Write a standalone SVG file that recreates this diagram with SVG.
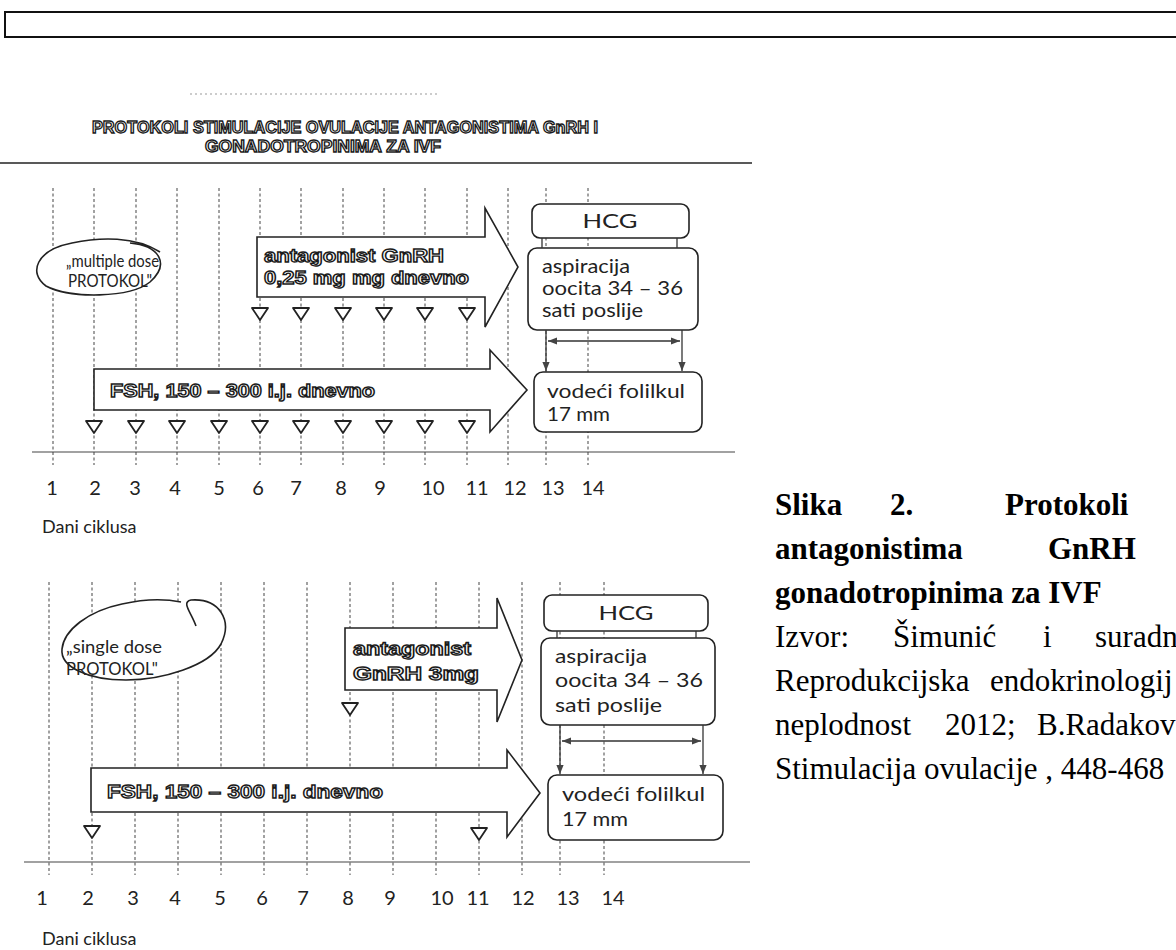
<svg xmlns="http://www.w3.org/2000/svg" width="1176" height="950" viewBox="0 0 1176 950">
<defs>
<style>
.dash{stroke:#555;stroke-width:1.1;stroke-dasharray:3 2.5;fill:none}
.box{fill:#fff;stroke:#222;stroke-width:1.6}
.tri{fill:#fff;stroke:#222;stroke-width:1.8;stroke-linejoin:round}
.ax{stroke:#444;stroke-width:1.2}
.t{font-family:Lato,"Open Sans",sans-serif;fill:#222}
.o{font-family:"Liberation Sans",Arial,sans-serif;font-weight:bold;fill:#fff;stroke:#1a1a1a;stroke-width:1.3}
.c{font-family:"Liberation Serif","Times New Roman",serif;font-size:31px;fill:#000}
.cb{font-weight:bold}
.con{stroke:#333;stroke-width:1.3;fill:none}
.num{font-size:20px;text-anchor:middle}
</style>
<marker id="ah" viewBox="0 0 10 10" refX="10" refY="5" markerWidth="7" markerHeight="7" orient="auto-start-reverse"><path d="M0,1 L10,5 L0,9 z" fill="#444"/></marker>
</defs>
<rect width="1176" height="950" fill="#fff"/>
<rect x="5" y="12" width="1190" height="25" fill="none" stroke="#111" stroke-width="2"/>

<g id="title">
<line x1="190" y1="94" x2="440" y2="94" stroke="#999" stroke-width="1" stroke-dasharray="2 3"/>
<text class="o" x="92" y="133" font-size="16" textLength="506" lengthAdjust="spacingAndGlyphs">PROTOKOLI STIMULACIJE OVULACIJE ANTAGONISTIMA GnRH I</text>
<text class="o" x="205" y="152" font-size="16" textLength="236" lengthAdjust="spacingAndGlyphs">GONADOTROPINIMA ZA IVF</text>
<line x1="0" y1="163" x2="752" y2="163" stroke="#222" stroke-width="1.5"/>
</g>

<g id="chart1-grid">
<line class="dash" x1="53" y1="188" x2="53" y2="465"/>
<line class="dash" x1="94" y1="188" x2="94" y2="465"/>
<line class="dash" x1="136" y1="188" x2="136" y2="465"/>
<line class="dash" x1="177" y1="188" x2="177" y2="465"/>
<line class="dash" x1="219" y1="188" x2="219" y2="465"/>
<line class="dash" x1="260" y1="188" x2="260" y2="465"/>
<line class="dash" x1="301" y1="188" x2="301" y2="465"/>
<line class="dash" x1="343" y1="188" x2="343" y2="465"/>
<line class="dash" x1="384" y1="188" x2="384" y2="465"/>
<line class="dash" x1="425" y1="188" x2="425" y2="465"/>
<line class="dash" x1="467" y1="188" x2="467" y2="465"/>
<line class="dash" x1="508" y1="188" x2="508" y2="465"/>
<line class="dash" x1="546" y1="188" x2="546" y2="465"/>
<line class="dash" x1="588" y1="188" x2="588" y2="465"/>
<line class="ax" x1="32" y1="452" x2="735" y2="452"/>
<g class="t num">
<text x="52" y="495">1</text><text x="95" y="495">2</text><text x="135" y="495">3</text><text x="175" y="495">4</text><text x="219" y="495">5</text><text x="258" y="495">6</text><text x="296" y="495">7</text><text x="341" y="495">8</text><text x="380" y="495">9</text><text x="433" y="495">10</text><text x="477" y="495">11</text><text x="515" y="495">12</text><text x="553" y="495">13</text><text x="593" y="495">14</text>
</g>
<text class="t" x="42" y="533" font-size="18">Dani ciklusa</text>
</g>

<g id="multiple-dose">
<path d="M130,243 C160,246 170,264 150,282 C130,298 70,299 46,286 C28,273 36,250 72,243 C100,237 135,236 160,252" class="box" stroke-width="1.4"/>
<text class="t" x="66" y="267" font-size="18" textLength="93" lengthAdjust="spacingAndGlyphs">„multiple dose</text>
<text class="t" x="68" y="287" font-size="18" textLength="84" lengthAdjust="spacingAndGlyphs">PROTOKOL"</text>
</g>

<g id="antagonist1">
<path class="box" d="M257,237 H485 V208 L518,267 L485,327 V297 H257 Z"/>
<text class="o" x="264" y="262" font-size="18" textLength="180" lengthAdjust="spacingAndGlyphs">antagonist GnRH</text>
<text class="o" x="264" y="284" font-size="18" textLength="205" lengthAdjust="spacingAndGlyphs">0,25 mg mg dnevno</text>
</g>

<g id="antagonist1-doses">
<polygon class="tri" points="252,308 268,308 260,320"/>
<polygon class="tri" points="293,308 309,308 301,320"/>
<polygon class="tri" points="335,308 351,308 343,320"/>
<polygon class="tri" points="376,308 392,308 384,320"/>
<polygon class="tri" points="417,308 433,308 425,320"/>
<polygon class="tri" points="459,308 475,308 467,320"/>
</g>

<g id="fsh1">
<path class="box" d="M94,369 H490 V350 L527,390 L490,432 V410 H94 Z"/>
<text class="o" x="110" y="397" font-size="18" textLength="265" lengthAdjust="spacingAndGlyphs">FSH, 150 – 300 i.j. dnevno</text>
</g>

<g id="fsh1-doses">
<polygon class="tri" points="86,421 102,421 94,433"/>
<polygon class="tri" points="128,421 144,421 136,433"/>
<polygon class="tri" points="169,421 185,421 177,433"/>
<polygon class="tri" points="211,421 227,421 219,433"/>
<polygon class="tri" points="252,421 268,421 260,433"/>
<polygon class="tri" points="293,421 309,421 301,433"/>
<polygon class="tri" points="335,421 351,421 343,433"/>
<polygon class="tri" points="376,421 392,421 384,433"/>
<polygon class="tri" points="417,421 433,421 425,433"/>
<polygon class="tri" points="459,421 475,421 467,433"/>
</g>

<g id="hcg1">
<rect class="box" x="532" y="204" width="157" height="34" rx="8"/>
<text class="t" x="610" y="228" font-size="19" text-anchor="middle" textLength="55" lengthAdjust="spacingAndGlyphs">HCG</text>
</g>
<g id="aspiracija1">
<rect class="box" x="528" y="248" width="170" height="82" rx="9"/>
<text class="t" x="542" y="273" font-size="19" textLength="88" lengthAdjust="spacingAndGlyphs">aspiracija</text>
<text class="t" x="542" y="295" font-size="19" textLength="141" lengthAdjust="spacingAndGlyphs">oocita 34 – 36</text>
<text class="t" x="542" y="317" font-size="19" textLength="101" lengthAdjust="spacingAndGlyphs">sati poslije</text>
</g>
<g id="folikul1">
<rect class="box" x="534" y="372" width="168" height="60" rx="9"/>
<text class="t" x="547" y="398" font-size="19" textLength="138" lengthAdjust="spacingAndGlyphs">vodeći folilkul</text>
<text class="t" x="547" y="421" font-size="19" textLength="63" lengthAdjust="spacingAndGlyphs">17 mm</text>
</g>

<g id="chart2-grid">
<line class="dash" x1="49" y1="582" x2="49" y2="875"/>
<line class="dash" x1="92" y1="582" x2="92" y2="875"/>
<line class="dash" x1="135" y1="582" x2="135" y2="875"/>
<line class="dash" x1="178" y1="582" x2="178" y2="875"/>
<line class="dash" x1="221" y1="582" x2="221" y2="875"/>
<line class="dash" x1="264" y1="582" x2="264" y2="875"/>
<line class="dash" x1="307" y1="582" x2="307" y2="875"/>
<line class="dash" x1="350" y1="582" x2="350" y2="875"/>
<line class="dash" x1="393" y1="582" x2="393" y2="875"/>
<line class="dash" x1="436" y1="582" x2="436" y2="875"/>
<line class="dash" x1="479" y1="582" x2="479" y2="875"/>
<line class="dash" x1="522" y1="582" x2="522" y2="875"/>
<line class="dash" x1="560" y1="582" x2="560" y2="875"/>
<line class="dash" x1="604" y1="582" x2="604" y2="875"/>
<line class="ax" x1="24" y1="862" x2="750" y2="862"/>
<g class="t num">
<text x="42" y="905">1</text><text x="88" y="905">2</text><text x="133" y="905">3</text><text x="175" y="905">4</text><text x="220" y="905">5</text><text x="262" y="905">6</text><text x="303" y="905">7</text><text x="348" y="905">8</text><text x="390" y="905">9</text><text x="442" y="905">10</text><text x="478" y="905">11</text><text x="523" y="905">12</text><text x="568" y="905">13</text><text x="613" y="905">14</text>
</g>
<text class="t" x="42" y="945" font-size="18">Dani ciklusa</text>
</g>

<g id="single-dose">
<path class="box" stroke-width="1.4" d="M196,626 C191,612 181,602 191,600 C219,598 233,620 221,644 C209,666 162,680 126,680 C88,680 60,667 62,649 C64,630 88,611 122,604 C144,599 166,599 181,602"/>
<text class="t" x="66" y="653" font-size="18" textLength="96" lengthAdjust="spacingAndGlyphs">„single dose</text>
<text class="t" x="66" y="675" font-size="18" textLength="92" lengthAdjust="spacingAndGlyphs">PROTOKOL"</text>
</g>

<g id="antagonist2">
<path class="box" d="M345,628 H497 V598 L522,660 L497,722 V690 H345 Z"/>
<text class="o" x="353" y="655" font-size="18" textLength="118" lengthAdjust="spacingAndGlyphs">antagonist</text>
<text class="o" x="353" y="680" font-size="18" textLength="126" lengthAdjust="spacingAndGlyphs">GnRH 3mg</text>
</g>
<g id="antagonist2-dose">
<polygon class="tri" points="342,703 358,703 350,715"/>
</g>

<g id="fsh2">
<path class="box" d="M91,768 H507 V750 L540,793 L507,837 V812 H91 Z"/>
<text class="o" x="107" y="798" font-size="19" textLength="276" lengthAdjust="spacingAndGlyphs">FSH, 150 – 300 i.j. dnevno</text>
</g>
<g id="fsh2-doses">
<polygon class="tri" points="84,826 100,826 92,838"/>
<polygon class="tri" points="471,828 487,828 479,840"/>
</g>

<g id="hcg2">
<rect class="box" x="544" y="595" width="164" height="36" rx="8"/>
<text class="t" x="626" y="620" font-size="20" text-anchor="middle" textLength="55" lengthAdjust="spacingAndGlyphs">HCG</text>
</g>
<g id="aspiracija2">
<rect class="box" x="541" y="638" width="174" height="87" rx="9"/>
<text class="t" x="555" y="663" font-size="20" textLength="92" lengthAdjust="spacingAndGlyphs">aspiracija</text>
<text class="t" x="555" y="687" font-size="20" textLength="148" lengthAdjust="spacingAndGlyphs">oocita 34 – 36</text>
<text class="t" x="555" y="712" font-size="20" textLength="107" lengthAdjust="spacingAndGlyphs">sati poslije</text>
</g>
<g id="folikul2">
<rect class="box" x="548" y="775" width="175" height="65" rx="9"/>
<text class="t" x="562" y="801" font-size="20" textLength="143" lengthAdjust="spacingAndGlyphs">vodeći folilkul</text>
<text class="t" x="562" y="826" font-size="20" textLength="66" lengthAdjust="spacingAndGlyphs">17 mm</text>
</g>

<g id="connectors">
<line class="con" x1="542" y1="238" x2="542" y2="248"/>
<line class="con" x1="677" y1="238" x2="677" y2="248"/>
<line class="con" x1="546" y1="330" x2="546" y2="371" marker-end="url(#ah)"/>
<line class="con" x1="682" y1="330" x2="682" y2="371" marker-end="url(#ah)"/>
<line class="con" x1="548" y1="341" x2="680" y2="341" marker-start="url(#ah)" marker-end="url(#ah)"/>
<line class="con" x1="557" y1="631" x2="557" y2="638"/>
<line class="con" x1="696" y1="631" x2="696" y2="638"/>
<line class="con" x1="560" y1="725" x2="560" y2="774" marker-end="url(#ah)"/>
<line class="con" x1="703" y1="725" x2="703" y2="774" marker-end="url(#ah)"/>
<line class="con" x1="562" y1="741" x2="701" y2="741" marker-start="url(#ah)" marker-end="url(#ah)"/>
</g>

<g id="caption">
<text class="c cb" x="775" y="515">Slika</text>
<text class="c cb" x="890" y="515">2.</text>
<text class="c cb" x="1005" y="515">Protokoli</text>
<text class="c cb" x="775" y="559">antagonistima</text>
<text class="c cb" x="1048" y="559">GnRH</text>
<text class="c cb" x="775" y="603">gonadotropinima za IVF</text>
<text class="c" x="775" y="647">Izvor:</text>
<text class="c" x="893" y="647">Šimunić</text>
<text class="c" x="1043" y="647">i</text>
<text class="c" x="1095" y="647">suradn</text>
<text class="c" x="775" y="691">Reprodukcijska</text>
<text class="c" x="990" y="691">endokrinologij</text>
<text class="c" x="775" y="735">neplodnost</text>
<text class="c" x="945" y="735">2012;</text>
<text class="c" x="1037" y="735">B.Radakov</text>
<text class="c" x="775" y="779">Stimulacija ovulacije , 448-468</text>
</g>
</svg>
